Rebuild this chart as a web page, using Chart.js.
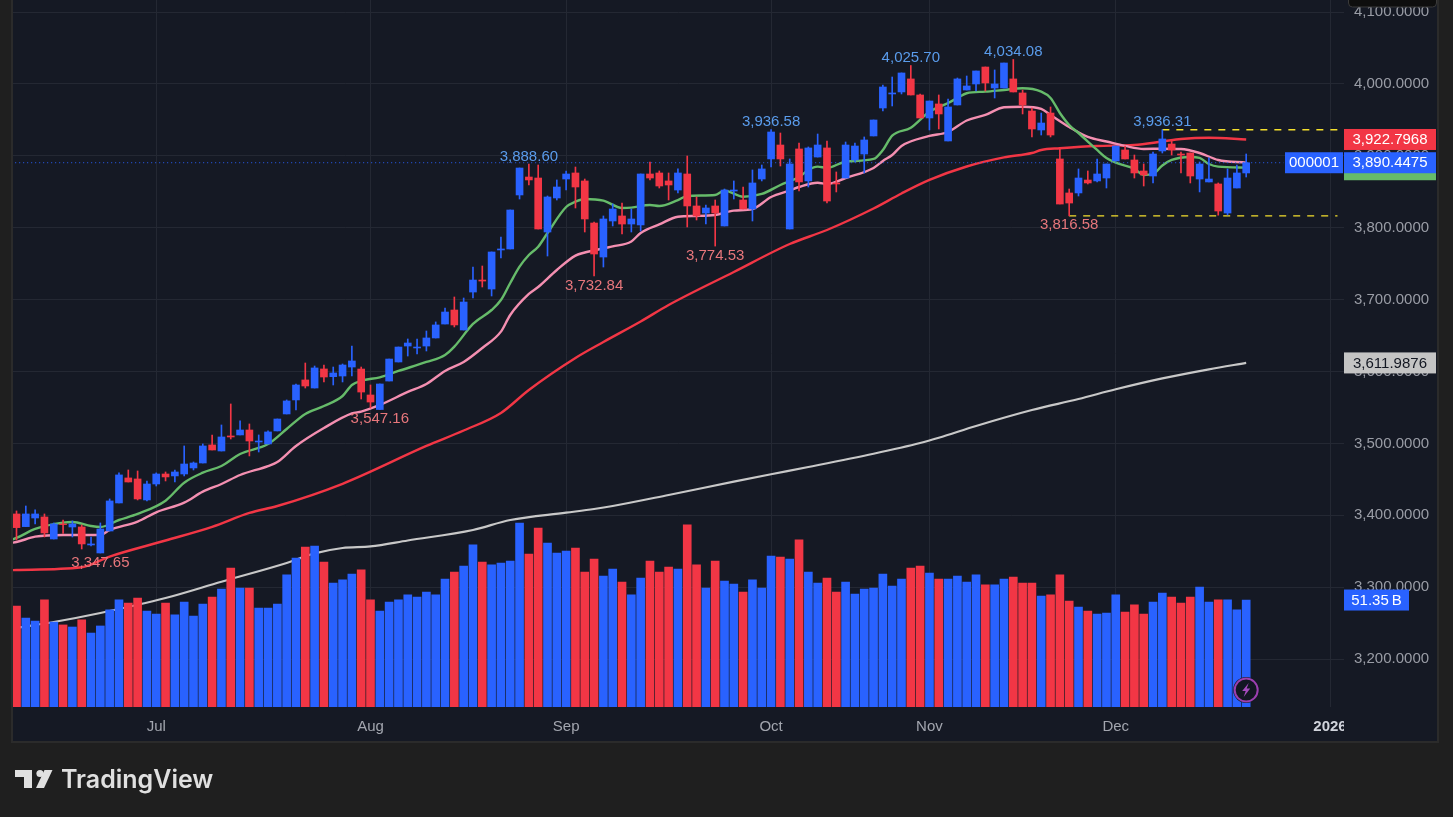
<!DOCTYPE html>
<html><head><meta charset="utf-8">
<style>html,body{margin:0;padding:0;background:#1f1f1f;overflow:hidden}canvas{display:block}</style>
<script src="https://cdn.jsdelivr.net/npm/chart.js@4"></script></head>
<body><canvas id="c" width="1453" height="817"></canvas>
<script>
const opens=[3401.9,3384.3,3396.3,3397.7,3367.1,3388.0,3383.8,3383.8,3358.8,3347.65,3378.2,3417.2,3452.0,3450.6,3421.4,3443.6,3457.5,3454.8,3457.5,3465.9,3472.8,3497.9,3489.5,3510.4,3511.8,3518.7,3502.0,3499.3,3517.4,3541.0,3560.5,3588.3,3577.1,3603.6,3592.9,3593.8,3606.3,3603.5,3567.4,3547.16,3586.8,3613.3,3635.5,3632.8,3635.5,3646.7,3666.1,3685.6,3657.8,3710.6,3727.3,3714.8,3769.1,3770.5,3845.6,3870.6,3869.2,3794.1,3841.4,3867.8,3876.2,3865.1,3806.6,3759.3,3809.4,3816.4,3805.2,3803.9,3874.8,3876.2,3865.1,3852.5,3874.8,3830.3,3820.5,3830.3,3802.5,3851.1,3838.6,3826.1,3867.8,3895.7,3915.1,3798.3,3909.6,3865.1,3898.4,3911.0,3862.3,3869.2,3894.3,3902.6,3927.7,3966.6,3986.1,3988.9,4007.0,3984.7,3952.7,3972.2,3920.7,3970.8,3991.6,4000.0,4023.6,3994.4,3994.4,4007.0,3987.5,3962.4,3936.0,3959.6,3895.7,3848.4,3848.4,3866.4,3865.1,3869.2,3892.9,3908.2,3894.3,3879.0,3872.0,3906.8,3916.5,3902.6,3904.0,3867.8,3863.7,3860.9,3820.5,3855.3,3876.2];
const highs=[3406.1,3413.0,3407.5,3401.9,3389.4,3393.5,3392.2,3386.6,3369.9,3389.4,3422.8,3459.0,3463.1,3461.7,3447.8,3459.0,3460.3,3463.1,3496.5,3474.2,3499.3,3511.8,3525.7,3554.9,3531.3,3527.1,3511.8,3517.4,3534.0,3560.5,3582.7,3611.9,3607.7,3609.1,3606.3,3610.5,3635.5,3606.3,3581.3,3582.7,3617.4,3634.1,3645.3,3645.3,3656.4,3669.0,3688.4,3703.7,3702.3,3745.4,3746.8,3766.3,3787.2,3824.7,3883.1,3888.60,3887.3,3844.2,3866.5,3879.0,3884.5,3867.8,3808.0,3816.4,3833.1,3834.5,3826.1,3874.8,3891.5,3879.0,3876.2,3881.8,3899.8,3842.8,3831.7,3838.6,3853.9,3865.1,3856.7,3880.4,3887.3,3936.58,3931.8,3895.7,3917.9,3912.4,3930.4,3920.7,3877.6,3919.3,3917.9,3926.3,3949.9,3998.6,4009.7,4015.3,4025.70,3986.1,3976.3,3984.7,3979.1,4008.3,4011.1,4018.1,4023.6,4019.5,4029.2,4034.08,3991.6,3966.6,3959.6,3968.0,3909.6,3853.9,3881.8,3879.0,3895.7,3888.7,3913.7,3913.7,3901.2,3888.7,3905.4,3936.31,3920.7,3905.4,3904.0,3891.5,3897.1,3862.3,3881.8,3887.3,3902.6];
const lows=[3365.7,3384.3,3388.0,3369.9,3367.1,3375.0,3369.9,3353.2,3357.4,3347.65,3378.2,3417.2,3446.4,3421.4,3420.0,3440.8,3447.8,3446.4,3454.8,3463.1,3472.8,3490.9,3489.5,3506.2,3511.8,3482.6,3488.1,3499.3,3517.4,3541.0,3546.6,3577.1,3577.1,3585.5,3581.3,3585.5,3593.8,3561.8,3549.3,3547.16,3586.8,3613.3,3621.6,3624.4,3628.6,3646.7,3666.1,3662.0,3657.8,3702.3,3717.6,3705.1,3758.0,3770.5,3840.0,3859.5,3798.3,3760.7,3838.6,3852.5,3827.5,3794.1,3732.84,3745.4,3802.5,3791.3,3794.1,3795.5,3866.5,3855.3,3838.6,3848.4,3801.1,3810.8,3805.2,3774.53,3802.5,3840.0,3826.1,3809.4,3865.1,3884.5,3885.9,3798.3,3851.1,3856.7,3898.4,3834.4,3849.8,3869.2,3891.5,3876.2,3927.7,3962.4,3969.4,3986.1,3984.7,3952.7,3936.0,3937.4,3920.7,3970.8,3991.6,3990.2,3990.2,3980.5,3994.4,3988.9,3958.3,3926.3,3929.0,3926.3,3833.0,3816.58,3844.2,3860.9,3863.7,3855.3,3892.9,3895.7,3869.2,3858.1,3862.3,3904.0,3901.2,3876.2,3862.3,3849.8,3863.7,3817.5,3817.8,3855.3,3870.6];
const closes=[3382.9,3401.9,3401.9,3375.5,3388.0,3387.1,3388.0,3360.2,3360.2,3381.0,3420.0,3456.2,3446.4,3422.8,3443.6,3457.5,3453.4,3460.3,3471.4,3472.8,3496.5,3490.9,3509.0,3509.0,3518.7,3503.4,3503.4,3516.0,3534.0,3559.1,3581.3,3579.9,3605.0,3592.4,3598.0,3609.1,3614.7,3571.5,3557.6,3582.7,3617.4,3634.1,3639.7,3634.1,3646.7,3664.8,3682.8,3664.8,3696.7,3727.3,3725.9,3766.3,3770.5,3824.7,3883.1,3866.5,3798.3,3842.8,3856.7,3874.8,3856.7,3812.2,3763.5,3812.2,3826.1,3805.2,3812.2,3874.8,3869.2,3858.1,3859.5,3876.2,3830.3,3816.4,3827.5,3820.5,3852.5,3852.5,3826.1,3862.3,3881.8,3933.2,3895.7,3888.7,3863.7,3911.0,3915.1,3837.2,3860.9,3915.1,3913.7,3922.1,3949.9,3995.8,3987.5,4015.3,3984.7,3952.7,3976.3,3958.3,3968.0,4007.0,3997.2,4018.1,4001.4,4000.0,4029.2,3988.9,3970.8,3937.4,3945.7,3929.0,3833.0,3834.4,3869.2,3862.3,3874.8,3888.7,3913.7,3895.7,3876.2,3873.4,3902.6,3923.5,3908.2,3901.2,3872.0,3888.7,3867.8,3823.3,3869.2,3876.2,3890.4475];
const volumes=[48.5,42.7,41.3,51.4,40.8,39.4,38.4,41.8,35.5,38.9,46.6,51.4,49.9,52.3,46.1,44.6,49.9,44.2,50.4,43.7,49.4,52.8,56.6,66.7,57.1,57.1,47.5,47.5,49.4,63.4,71.5,76.8,77.3,69.6,59.5,61.0,63.8,65.8,51.4,46.1,50.4,51.4,53.8,52.8,55.2,53.8,61.4,64.8,67.7,77.8,69.6,68.2,69.1,70.1,88.3,73.4,85.9,78.7,73.9,74.9,76.3,64.8,71.0,62.9,66.2,60.0,53.8,61.9,70.1,64.8,67.2,66.2,87.4,68.2,57.1,70.1,60.5,59.0,55.2,61.0,57.1,72.5,72.0,71.0,80.2,64.8,59.5,61.9,55.2,60.0,54.2,56.6,57.1,63.8,58.1,61.4,66.7,67.7,64.3,61.4,61.4,62.9,60.0,63.4,58.6,58.6,61.4,62.4,59.5,59.5,53.3,53.8,63.4,50.9,48.0,46.1,44.6,45.1,53.8,45.6,49.0,44.6,50.4,54.7,52.8,49.9,52.8,57.6,50.4,51.4,51.4,46.6,51.35];

const greenIdx=[-1,0,2,5,6,8,9,11,13,16,18,20,22,24,27,29,31,33,35,36,37,39,41,44,46,47,49,51,52,53,54,55,56,57,59,60,61,63,65,66,68,69,71,72,75,76,78,80,82,84,85,86,87,89,92,93,94,96,98,100,101,102,104,106,108,110,111,112,113,114,116,117,118,120,121,122,123,124,126,127,128,129,132];
const greenVals=[3364,3368.5,3381,3389.8,3390.7,3385.2,3383.8,3393.5,3401.9,3420.4,3445.4,3459.3,3468.6,3485.3,3499.2,3520.1,3541,3552.1,3566,3581.3,3587.3,3592,3600.8,3613.3,3623,3634.6,3666.2,3685.6,3699.5,3723.2,3745.9,3762.1,3773.7,3792.7,3828.9,3836.3,3840,3837.7,3827.5,3828,3831.7,3830.3,3838.6,3844.2,3845.6,3851.6,3843.2,3847,3859.5,3870.6,3880.4,3885,3883.2,3891.9,3895.7,3908.2,3928.1,3939.2,3961.5,3973.6,3980.5,3987.1,3989.3,3991.7,3994,3989.3,3980.5,3959.7,3943,3931.8,3908.2,3897.1,3890.5,3881.8,3873.4,3874.8,3886.6,3894.3,3898.5,3897.1,3888.7,3885,3883.6];
const pinkIdx=[-1,0,2,5,9,10,13,15,18,20,22,24,27,28,30,33,36,37,39,42,44,46,48,50,52,53,55,56,58,60,61,64,66,67,69,71,73,75,77,79,81,83,84,86,87,89,92,93,94,95,98,100,102,104,106,108,110,111,113,115,117,119,121,123,125,127,129,132];
const pinkVals=[3361,3362.9,3370.3,3372.7,3372.7,3379.6,3391.2,3404.2,3417.6,3432.9,3443.6,3456.1,3468.6,3474.2,3496.5,3521.5,3541.7,3544.2,3553.5,3571.6,3582.7,3600.8,3613.3,3632.8,3655.5,3678.7,3707.9,3717.6,3741.3,3761.2,3765.6,3774,3781,3792.7,3804.6,3815.4,3816.4,3817.8,3823.8,3826.1,3842.8,3851.9,3856.7,3862.7,3860.9,3869.2,3883.2,3892.9,3901.2,3913.8,3927.7,3933.2,3949.2,3956.9,3967.6,3968.4,3965.2,3956.9,3940.2,3926.3,3920,3913.8,3909.6,3910,3909.6,3904,3894.3,3890.5];
const redIdx=[-1,0,7,10,16,21,25,28,35,44,48,52,55,60,63,67,70,77,83,87,92,95,98,102,106,109,110,112,116,120,123,125,128,132];
const redVals=[3323.5,3324,3327.7,3342.7,3365,3384,3403.3,3413,3443.9,3496.5,3518,3542.4,3574.4,3618.9,3641.1,3669.6,3692.6,3738.5,3777.4,3796.9,3826.8,3847.7,3866.5,3885.2,3897.8,3904,3908.2,3910.6,3913.8,3915.1,3920,3923.5,3925.3,3922.7968];
const grayIdx=[-1,0,4,9,16,22,29,32,35,38,42,49,53,59,62,64,70,77,81,85,92,97,99,103,109,114,118,123,128,132];
const grayVals=[3241,3243.3,3251.6,3264.2,3285,3307.7,3333.7,3347,3354.6,3356.7,3365,3379.6,3393.5,3403.7,3408.8,3413,3428.3,3446.8,3457.1,3467.2,3485.7,3500.6,3507.9,3524.3,3546.5,3561.8,3575.3,3590.4,3603.1,3611.9876];

const monthTickIdx=[15,38,59,81,98,118,141];
const monthTickLabels=['Jul','Aug','Sep','Oct','Nov','Dec','2026'];
const priceTicks=[3200,3300,3400,3500,3600,3700,3800,3900,4000,4100];
const highMarks=[55,81,96,107,123];
const lowMarks=[9,39,62,75,113];
const rangeEndIdx=[141.8,143];
const symbol='000001';

const UP='#2962ff',DOWN='#f23645',FONT='"Liberation Sans",Arial,sans-serif';
const fmt=(v,d)=>v.toLocaleString('en-US',{minimumFractionDigits:d,maximumFractionDigits:d});
const last=a=>a[a.length-1];
const colorOf=closes.map((c,i)=>c>=opens[i]?UP:DOWN);
const zip=(xs,ys)=>xs.map((x,i)=>({x,y:ys[i]}));
const maLine=(idx,vals,color,order,w)=>({type:'line',data:zip(idx,vals),borderColor:color,borderWidth:w,pointRadius:0,cubicInterpolationMode:'monotone',order,yAxisID:'y'});
const lastIdx=closes.length-1;

const overlay={id:'overlay',
 beforeDraw(ch){const c=ch.ctx;c.save();
  c.fillStyle='#1f1f1f';c.fillRect(0,0,1453,817);
  c.fillStyle='#151924';c.fillRect(13,0,1424,741);
  c.strokeStyle='#2b2b2b';c.lineWidth=2;c.beginPath();c.moveTo(12,0);c.lineTo(12,742);c.lineTo(1438,742);c.lineTo(1438,0);c.stroke();
  c.restore();},
 afterDatasetsDraw(ch){const c=ch.ctx,x=ch.scales.x,y=ch.scales.y;c.save();
  c.font='15px '+FONT;c.textAlign='center';c.textBaseline='middle';
  c.fillStyle='#5a9cec';
  highMarks.forEach(i=>c.fillText(fmt(highs[i],2),x.getPixelForValue(i),y.getPixelForValue(highs[i])-7.5));
  c.fillStyle='#e8777c';
  lowMarks.forEach(i=>c.fillText(fmt(lows[i],2),x.getPixelForValue(i),y.getPixelForValue(lows[i])+9.5));
  const bx=x.getPixelForValue(lastIdx),by=690;
  c.beginPath();c.arc(bx,by,13,0,Math.PI*2);c.fillStyle='#131722';c.fill();
  c.beginPath();c.arc(bx,by,11.5,0,Math.PI*2);c.strokeStyle='#9c3fb0';c.lineWidth=2;c.stroke();
  c.beginPath();c.moveTo(bx+2.5,by-7);c.lineTo(bx-4,by+1);c.lineTo(bx-.5,by+1);c.lineTo(bx-2.5,by+7);c.lineTo(bx+4,by-1.5);c.lineTo(bx+.5,by-1.5);c.closePath();c.fillStyle='#a64bbd';c.fill();
  c.restore();},
 afterDraw(ch){const c=ch.ctx,y=ch.scales.y,yv=ch.scales.yv;c.save();
  c.fillStyle='#151924';c.fillRect(1344,708,93,32);
  c.fillStyle='#0e0e0e';c.strokeStyle='#3a3a3a';c.lineWidth=1;c.beginPath();c.roundRect(1348.5,-6,88,13,4);c.fill();c.stroke();
  const box=(x0,x1,cy,bg,fg,txt,h=21)=>{c.fillStyle=bg;c.fillRect(x0,cy-h/2,x1-x0,h);if(txt){c.fillStyle=fg;c.fillText(txt,(x0+x1)/2,cy+.5);}};
  c.font='15px '+FONT;c.textAlign='center';c.textBaseline='middle';
  const py=y.getPixelForValue(last(closes));
  box(1344,1436,py+9,'#66bb6a','#fff','',17);
  box(1344,1436,y.getPixelForValue(last(redVals)),DOWN,'#fff',fmt(last(redVals),4));
  box(1344,1436,py,UP,'#fff',fmt(last(closes),4));
  box(1285,1343,py,UP,'#fff',symbol);
  box(1344,1436,y.getPixelForValue(last(grayVals)),'#c4c4c4','#131722',fmt(last(grayVals),4));
  box(1344,1409,yv.getPixelForValue(last(volumes)),UP,'#fff',last(volumes).toFixed(2)+'\u2009B');
  // TradingView mark
  c.fillStyle='#e0e0e0';
  c.beginPath();c.moveTo(15,770);c.lineTo(32,770);c.lineTo(32,788);c.lineTo(24,788);c.lineTo(24,777);c.lineTo(15,777);c.closePath();c.fill();
  c.beginPath();c.arc(40,773.5,3.6,0,Math.PI*2);c.fill();
  c.beginPath();c.moveTo(44.5,770);c.lineTo(52.5,770);c.lineTo(44,788);c.lineTo(36,788);c.closePath();c.fill();
  c.font='600 25px Inter,Roboto,sans-serif';c.textAlign='left';c.textBaseline='alphabetic';
  c.fillText('TradingView',61,788);
  c.restore();}
};

new Chart(document.getElementById('c'),{
 data:{datasets:[
  {type:'bar',data:closes.map((c,i)=>({x:i,y:[Math.min(opens[i],c),Math.max(opens[i],c)]})),backgroundColor:colorOf,barThickness:7,grouped:false,order:2,yAxisID:'y'},
  {type:'bar',data:closes.map((c,i)=>({x:i,y:[lows[i],highs[i]]})),backgroundColor:colorOf,barThickness:1,grouped:false,order:3,yAxisID:'y'},
  {type:'line',data:[{x:-1,y:last(closes)},{x:lastIdx+4,y:last(closes)}],borderColor:UP,borderWidth:1,borderDash:[1,3],pointRadius:0,order:4,yAxisID:'y'},
  {type:'line',data:[{x:123,y:highs[123]},{x:rangeEndIdx[1],y:highs[123]}],borderColor:'#f5e02c',borderWidth:1.3,borderDash:[7,7],pointRadius:0,order:5,yAxisID:'y'},
  {type:'line',data:[{x:113,y:lows[113]},{x:rangeEndIdx[0],y:lows[113]}],borderColor:'#f5e02c',borderWidth:1.3,borderDash:[7,7],pointRadius:0,order:5,yAxisID:'y'},
  maLine(greenIdx,greenVals,'#66bb6a',6,2.4),
  maLine(pinkIdx,pinkVals,'#f48fb1',7,2.4),
  maLine(redIdx,redVals,'#f23645',8,2.4),
  {type:'bar',data:volumes.map((v,i)=>({x:i,y:v})),backgroundColor:colorOf,barThickness:8,grouped:false,order:9,yAxisID:'yv'},
  maLine(grayIdx,grayVals,'#c8c8c8',10,2.2)
 ]},
 options:{responsive:false,animation:false,devicePixelRatio:1,events:[],
  layout:{padding:{left:13,right:16,top:0,bottom:76}},
  plugins:{legend:{display:false},tooltip:{enabled:false}},
  scales:{
   x:{type:'linear',min:-0.376,max:142.5,offset:false,
      grid:{color:'#242833',drawTicks:false,lineWidth:1,offset:false},border:{display:false},
      afterBuildTicks(s){s.ticks=monthTickIdx.map(v=>({value:v}));},
      afterFit(s){s.height=34;s.paddingLeft=0;s.paddingRight=0;},
      ticks:{autoSkip:false,maxRotation:0,minRotation:0,includeBounds:false,padding:11,
       color:c=>monthTickLabels[c.index]==='2026'?'#d1d4dc':'#a3a6af',
       font:c=>({family:FONT,size:15,weight:monthTickLabels[c.index]==='2026'?'bold':'normal'}),
       callback:v=>monthTickLabels[monthTickIdx.indexOf(v)]}},
   y:{type:'linear',position:'right',min:3133.4,max:4116.8,
      grid:{color:'#242833',drawTicks:false,lineWidth:1},border:{display:false},
      afterBuildTicks(s){s.ticks=priceTicks.map(v=>({value:v}));},
      afterFit(s){s.width=93;s.paddingTop=0;s.paddingBottom=0;},
      ticks:{padding:10,color:'#9a9da6',font:{family:FONT,size:15},callback:v=>fmt(v,4)}},
   yv:{type:'linear',display:false,min:0,max:339.4}
  }
 },
 plugins:[overlay]
});
</script></body></html>
